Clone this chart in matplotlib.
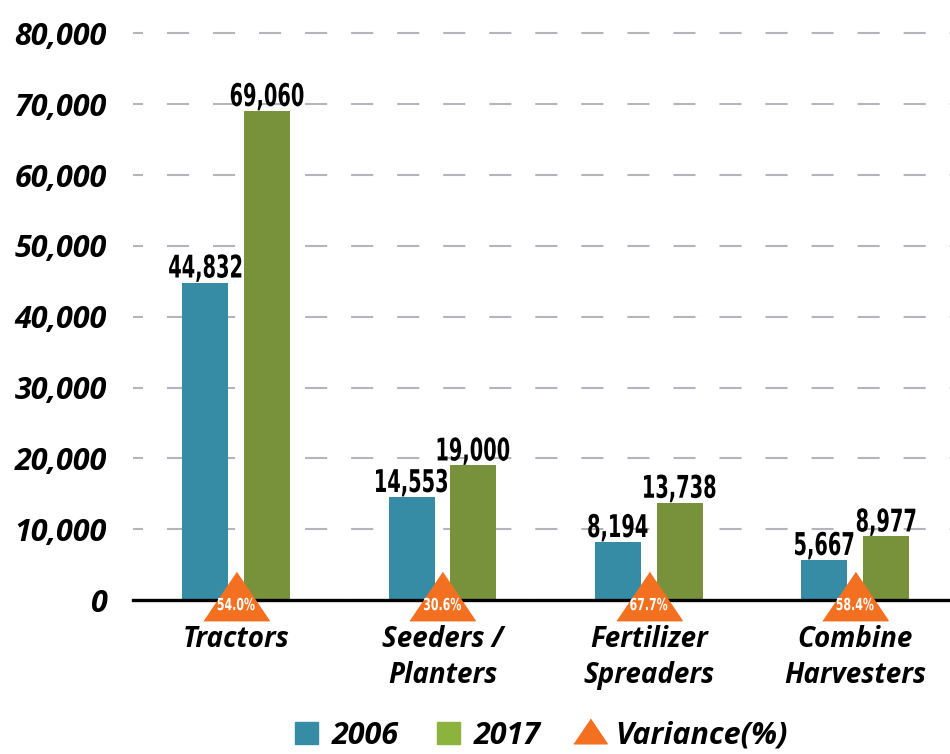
import matplotlib.pyplot as plt
from matplotlib.patches import Patch, PathPatch
from matplotlib.lines import Line2D
from matplotlib.textpath import TextPath
from matplotlib.font_manager import FontProperties
from matplotlib.transforms import Affine2D
import numpy as np

# ================= DATA =================
categories = ["Tractors", "Seeders /\nPlanters", "Fertilizer\nSpreaders", "Combine\nHarvesters"]
values_2006 = [44832, 14553, 8194, 5667]
values_2017 = [69060, 19000, 13738, 8977]
variance = [54.0, 30.6, 67.7, 58.4]
yticks = [0, 10000, 20000, 30000, 40000, 50000, 60000, 70000, 80000]

# ================= STYLE =================
c2006 = "#368CA4"
c2017 = "#78923C"
c2017_legend = "#8DB33F"
corange = "#F37021"
tick_font = dict(family=["Open Sans", "DejaVu Sans"], weight="bold", style="italic")
num_prop = FontProperties(family="DejaVu Sans", weight="bold")

fig = plt.figure(figsize=(9.5, 7.54), dpi=100)
ax = fig.add_axes([0.14, 0.2042, 0.86, 0.789])

x = np.arange(len(categories))
w = 0.223
off = 0.15

ax.set_xlim(-0.5, 3.46)
ax.set_ylim(0, 84000)


def narrow_text(s, xy, size, color, sx=0.62, dy_px=0.0, va="bottom", zorder=5):
    # condensed label: text drawn as a path, squeezed horizontally
    tp = TextPath((0, 0), s, size=size, prop=num_prop)
    bb = tp.get_extents()
    cx = (bb.x0 + bb.x1) / 2
    ty = 0 if va == "bottom" else -(bb.y0 + bb.y1) / 2
    px, py = ax.transData.transform(xy)
    k = fig.dpi / 72
    tr = (Affine2D().translate(-cx, ty).scale(sx * k, k)
          + Affine2D().translate(px, py + dy_px))
    p = PathPatch(tp, transform=tr, facecolor=color, edgecolor="none",
                  zorder=zorder, clip_on=False)
    fig.add_artist(p)


ax.yaxis.grid(True, color="#B4B4BA", lw=1.5, linestyle=(5.8, (10.6, 11.5)), zorder=0)
ax.set_axisbelow(True)

b1 = ax.bar(x - off, values_2006, w, color=c2006, zorder=2)
b2 = ax.bar(x + off, values_2017, w, color=c2017, zorder=2)

for xs, vals in ((x - off, values_2006), (x + off, values_2017)):
    for xi, v in zip(xs, vals):
        narrow_text(f"{v:,}", (xi, v), 22.5, "black", sx=0.62, dy_px=5)

ax.axhline(0, color="black", lw=2.4, zorder=3, clip_on=False)

# variance triangles
tri = [(-1, -0.62), (1, -0.62), (0, 0.86)]
ax.plot(x, np.zeros(len(x)), ls="", marker=tri, ms=47, color=corange,
        zorder=4, clip_on=False)
for xi, v in zip(x, variance):
    narrow_text(f"{v:.1f}%", (xi, 0), 12, "white", sx=0.66, dy_px=-4, va="center")

ax.set_yticks(yticks)
ax.set_yticklabels([f"{t:,}" for t in yticks], fontsize=22, **tick_font)
ax.set_xticks(x)
ax.set_xticklabels(categories, fontsize=20, linespacing=1.3, **tick_font)
ax.tick_params(axis="y", length=0, pad=19)
ax.tick_params(axis="x", length=0, pad=18)
for s in ax.spines.values():
    s.set_visible(False)

handles = [
    Patch(color=c2006),
    Patch(color=c2017_legend),
    Line2D([], [], ls="", marker=tri, ms=24, color=corange),
]
leg = fig.legend(handles, ["2006", "2017", "Variance(%)"], loc="lower center",
                 bbox_to_anchor=(0.570, -0.032), ncol=3, frameon=False,
                 handlelength=0.75, handleheight=0.75, handletextpad=0.45,
                 columnspacing=1.25, prop=dict(size=22, **tick_font))

fig.savefig("out.png", dpi=100)
